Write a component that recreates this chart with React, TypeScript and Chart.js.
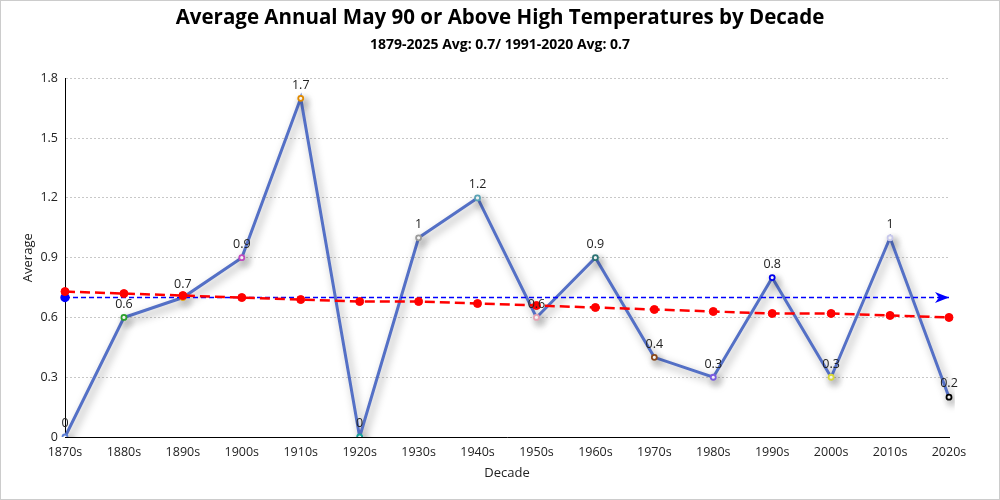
import React, { useEffect, useRef } from "react";
import { Chart, registerables } from "chart.js";

Chart.register(...registerables);

const decades = ["1870s","1880s","1890s","1900s","1910s","1920s","1930s","1940s","1950s","1960s","1970s","1980s","1990s","2000s","2010s","2020s"];
const averages = [0, 0.6, 0.7, 0.9, 1.7, 0, 1, 1.2, 0.6, 0.9, 0.4, 0.3, 0.8, 0.3, 1, 0.2];
const trend = [0.73, 0.72, 0.71, 0.70, 0.69, 0.68, 0.68, 0.67, 0.66, 0.65, 0.64, 0.63, 0.62, 0.62, 0.61, 0.60];
const normalAvg = 0.7;
const pointColors = ["#5b7fd6","#2ca02c","#e6a817","#c04cc0","#e08a00","#1aa39a","#9a9a9a","#5aa3b5","#e7a3b4","#2e7474","#8b4a1c","#7b5ce0","#0000ee","#d8d83a","#c8c8ec","#000000"];
const yTicks = [0, 0.3, 0.6, 0.9, 1.2, 1.5, 1.8];
const titleText = "Average Annual May 90 or Above High Temperatures by Decade";
const subtitleText = "1879-2025 Avg: 0.7/ 1991-2020 Avg: 0.7";

const FONT = "'Open Sans', 'Noto Sans', sans-serif";

const shadowPlugin = {
  id: "lineShadow",
  beforeDatasetDraw(chart: any, args: any) {
    if (args.index === 0) {
      const ctx = chart.ctx;
      ctx.save();
      ctx.shadowColor = "rgba(0,0,0,0.4)";
      ctx.shadowBlur = 9;
      ctx.shadowOffsetX = 3;
      ctx.shadowOffsetY = 4;
    }
  },
  afterDatasetDraw(chart: any, args: any) {
    if (args.index === 0) chart.ctx.restore();
  },
};

const extrasPlugin = {
  id: "extras",
  afterDatasetsDraw(chart: any) {
    const ctx = chart.ctx;
    const meta = chart.getDatasetMeta(2);
    const last = meta.data[meta.data.length - 1];
    if (last) {
      const tipX = last.x;
      const y = last.y;
      ctx.save();
      ctx.fillStyle = "#0000ff";
      ctx.beginPath();
      ctx.moveTo(tipX, y);
      ctx.lineTo(tipX - 14, y - 5.5);
      ctx.lineTo(tipX - 10, y);
      ctx.lineTo(tipX - 14, y + 5.5);
      ctx.closePath();
      ctx.fill();
      ctx.restore();
    }
    const m0 = chart.getDatasetMeta(0);
    ctx.save();
    ctx.font = `12.5px ${FONT}`;
    ctx.fillStyle = "#222";
    ctx.textAlign = "center";
    ctx.textBaseline = "bottom";
    m0.data.forEach((p: any, i: number) => {
      ctx.fillText(String(averages[i]), p.x, p.y - 7);
    });
    ctx.restore();
  },
};

export default function App() {
  const ref = useRef<HTMLCanvasElement | null>(null);
  useEffect(() => {
    document.body.style.margin = "0";
    if (!ref.current) return;
    const chart = new Chart(ref.current, {
      type: "line",
      data: {
        labels: decades,
        datasets: [
          {
            label: "Average",
            data: averages,
            borderColor: "#5470c6",
            borderWidth: 3,
            pointRadius: 2.5,
            pointBorderWidth: 1.8,
            pointBorderColor: pointColors,
            pointBackgroundColor: "#ffffff",
            tension: 0,
            order: 3,
          },
          {
            label: "Trend",
            data: trend,
            borderColor: "#ff0000",
            borderWidth: 2.5,
            borderDash: [10, 5],
            pointRadius: 4,
            pointBackgroundColor: "#ff0000",
            pointBorderColor: "#ff0000",
            pointBorderWidth: 1,
            order: 1,
          },
          {
            label: "1991-2020 Avg",
            data: decades.map(() => normalAvg),
            borderColor: "#0000ff",
            borderWidth: 1.4,
            borderDash: [5, 3],
            pointRadius: decades.map((_, i) => (i === 0 ? 4 : 0)),
            pointBackgroundColor: "#0000ff",
            pointBorderColor: "#0000ff",
            order: 2,
          },
        ],
      },
      options: {
        animation: false,
        responsive: true,
        maintainAspectRatio: false,
        layout: { padding: { left: 0, right: 0, top: 0, bottom: 8 } },
        plugins: {
          legend: { display: false },
          tooltip: { enabled: false },
          title: {
            display: true,
            text: titleText,
            color: "#000",
            font: { family: FONT, size: 20.5, weight: "bold" },
            padding: { top: 5, bottom: 6 },
          },
          subtitle: {
            display: true,
            text: subtitleText,
            color: "#000",
            font: { family: FONT, size: 14, weight: "bold" },
            padding: { top: 0, bottom: 25 },
          },
        },
        scales: {
          x: {
            offset: false,
            grid: { display: false, drawTicks: false },
            border: { display: true, color: "#000", width: 1 },
            ticks: { color: "#222", font: { family: FONT, size: 12.5 }, padding: 8, maxRotation: 0, autoSkip: false },
            title: { display: true, text: "Decade", color: "#222", font: { family: FONT, size: 13 }, padding: { top: 6, bottom: 10 } },
            afterFit: (s: any) => { s.height = 54; },
          },
          y: {
            min: 0,
            max: 1.8,
            afterBuildTicks: (s: any) => { s.ticks = yTicks.map((v) => ({ value: v })); },
            grid: { color: "#c8c8c8", lineWidth: 1, drawTicks: false },
            border: { display: true, color: "#000", width: 1, dash: [2, 2] },
            ticks: { color: "#222", font: { family: FONT, size: 12.5 }, padding: 7, callback: (v: any) => String(Math.round(Number(v) * 10) / 10) },
            title: { display: true, text: "Average", color: "#222", font: { family: FONT, size: 13 }, padding: { top: 19, bottom: 4 } },
            afterFit: (s: any) => { s.width = 64; },
          },
          yR: {
            position: "right",
            display: true,
            min: 0,
            max: 1.8,
            grid: { display: false, drawTicks: false },
            border: { display: false },
            ticks: { display: false },
            afterFit: (s: any) => { s.width = 50; },
          },
        },
      },
      plugins: [shadowPlugin, extrasPlugin],
    } as any);
    return () => chart.destroy();
  }, []);
  return (
    <div style={{ width: 1000, height: 500, boxSizing: "border-box", border: "1px solid #cccccc", background: "#fff" }}>
      <canvas ref={ref} />
    </div>
  );
}
